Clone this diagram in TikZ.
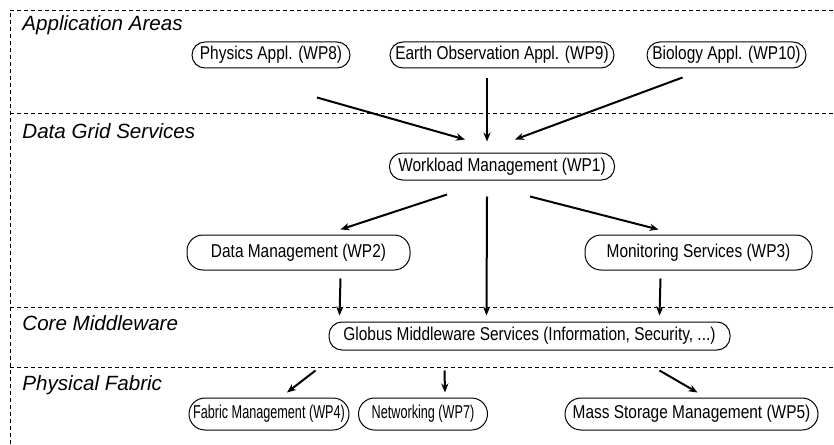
\documentclass[tikz,border=0pt]{standalone}
\usepackage{fontspec}
\setmainfont{Liberation Sans}
\newfontfamily\boxfont[FakeStretch=0.83]{Liberation Sans}
\newfontfamily\narrowfont[FakeStretch=0.68]{Liberation Sans}
\usetikzlibrary{arrows.meta,positioning}

\begin{document}
\begin{tikzpicture}[x=0.5pt,y=-0.5pt,
  wp/.style={draw,line width=0.5pt,rectangle,rounded corners=6.5pt,minimum height=13pt,inner sep=0pt,font=\boxfont\fontsize{9.3}{10}\selectfont},
  tall/.style={minimum height=17pt,rounded corners=8pt},
  narrow/.style={font=\narrowfont\fontsize{9.3}{10}\selectfont},
  layer/.style={anchor=base west,inner sep=0pt,font=\fontsize{10.3}{12}\selectfont\itshape},
  sep/.style={line width=0.4pt,dash pattern=on 2pt off 1.5pt},
  arr/.style={line width=1pt,-{Stealth[length=4.5pt,width=3.6pt]}}
]
  \useasboundingbox (0,0) rectangle (834,444);

  % Layers
  \draw[sep] (10,444) -- (10,10) -- (834,10);
  \draw[sep] (10,113) -- (834,113);
  \draw[sep] (10,307) -- (834,307);
  \draw[sep] (10,367) -- (834,367);
  \node[layer] (l1) at (22,31) {Application Areas};
  \node[layer] (l2) at (22,138) {Data Grid Services};
  \node[layer] (l3) at (22,330) {Core Middleware};
  \node[layer] (l4) at (22,390) {Physical Fabric};

  % Applications
  \node[wp,minimum width=79pt] (phys) at (271,55) {Physics Appl. (WP8)};
  \node[wp,minimum width=112pt] (earth) at (502,55) {Earth Observation Appl. (WP9)};
  \node[wp,minimum width=79.5pt] (bio) at (726.5,55) {Biology Appl. (WP10)};

  % Data grid
  \node[wp,minimum width=112.5pt,minimum height=13.5pt] (wl) at (502,166.5) {Workload Management (WP1)};
  \node[wp,tall,minimum width=111.5pt,minimum height=17.5pt] (dm) at (298.5,252.5) {Data Management (WP2)};
  \node[wp,tall,minimum width=113.5pt,minimum height=17.5pt] (mon) at (698.5,252.5) {Monitoring Services (WP3)};

  % Middleware
  \node[wp,minimum width=200.5pt,minimum height=14pt] (glob) at (529.5,336) {Globus Middleware Services (Information, Security, ...)};

  % Fabric
  \node[wp,tall,narrow,minimum width=80pt,minimum height=16pt] (fab) at (269,414) {Fabric Management (WP4)};
  \node[wp,tall,narrow,minimum width=64.5pt,minimum height=16pt] (net) at (423,414) {Networking (WP7)};
  \node[wp,tall,minimum width=126.5pt,minimum height=16pt] (mss) at (691.5,414) {Mass Storage Management (WP5)};

  % Arrows
  \draw[arr] ([shift={(46,29)}]phys.south) -- ([shift={(-37,-13)}]wl.north);
  \draw[arr] ([shift={(-15,10)}]earth.south) -- ([shift={(-15,-11)}]wl.north);
  \draw[arr] ([shift={(-44,9)}]bio.south) -- ([shift={(13,-13)}]wl.north);
  \draw[arr] ([shift={(-55,14)}]wl.south) -- ([shift={(42,-5)}]dm.north);
  \draw[arr] ([shift={(-15,16)}]wl.south) -- ([shift={(-43,-6)}]glob.north);
  \draw[arr] ([shift={(28,16)}]wl.south) -- ([shift={(-40,-5)}]mon.north);
  \draw[arr] ([shift={(42,8)}]dm.south) -- ([shift={(-190,-6)}]glob.north);
  \draw[arr] ([shift={(-38,8)}]mon.south) -- ([shift={(130,-6)}]glob.north);
  \draw[arr] ([shift={(-214,20)}]glob.south) -- ([shift={(18,-5)}]fab.north);
  \draw[arr] ([shift={(-85,20)}]glob.south) -- ([shift={(22,-5)}]net.north);
  \draw[arr] ([shift={(130,20)}]glob.south) -- ([shift={(6,-5)}]mss.north);
\end{tikzpicture}
\end{document}
